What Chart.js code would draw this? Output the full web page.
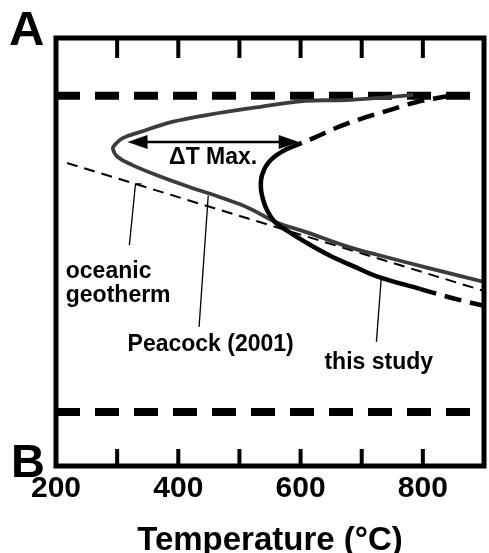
<!DOCTYPE html>
<html>
<head>
<meta charset="utf-8">
<script src="https://cdn.jsdelivr.net/npm/chart.js@4.4.1/dist/chart.umd.min.js"></script>
<style>
  html, body { margin: 0; padding: 0; background: #fff; }
  #wrap { width: 489px; height: 553px; }
</style>
</head>
<body>
<div id="wrap"><canvas id="chart" width="489" height="553"></canvas></div>
<script>
// x = temperature (°C), y = depth in frame units (0 = top of frame, 100 = bottom)
const thisStudyTemp = [844, 789, 751, 707, 665, 621, 602, 569, 548, 537, 535, 538, 545, 558, 581, 608, 646, 686, 727, 795, 849, 900];
const thisStudyDepth = [13.5, 15.0, 16.6, 18.5, 20.6, 23.4, 24.5, 26.6, 29.0, 32.0, 34.8, 37.4, 40.2, 43.0, 45.3, 47.7, 50.7, 53.3, 55.8, 58.6, 60.8, 62.6];
const SOLID_FROM = 6, SOLID_TO = 19; // solid part of "this study", dashed outside

const peacockTemp = [784, 727, 673, 608, 527, 446, 390, 337, 309, 296, 293, 301, 325, 364, 418, 472, 515, 559, 608, 678, 727, 808, 900];
const peacockDepth = [13.3, 14.0, 14.5, 14.7, 16.2, 18.0, 19.6, 22.0, 23.4, 25.0, 25.9, 27.8, 29.7, 32.0, 34.8, 37.4, 39.7, 43.0, 45.3, 48.8, 50.7, 53.7, 57.0];

const geothermTemp = [218, 900];
const geothermDepth = [29.2, 59.1];

const boundaryTemp = [200, 900];
const upperBoundaryDepth = 13.5;
const lowerBoundaryDepth = 87.4;

const leaderGeothermTemp = [320, 330, 340];
const leaderGeothermDepth = [48.4, 34.1, 34.1];
const leaderPeacockTemp = [434, 449];
const leaderPeacockDepth = [67.5, 36.8];
const leaderStudyTemp = [724, 732];
const leaderStudyDepth = [71.0, 56.0];

const deltaTFrom = 317, deltaTTo = 597, deltaTDepth = 24.3;

const noteText = ["oceanic", "geotherm", "Peacock (2001)", "this study", "\u0394T Max."];
const noteTemp = [216, 216, 317, 639, 385];
const noteDepth = [54.7, 60.1, 71.7, 75.9, 28.0];

const xTickMarks = [300, 400, 500, 600, 700, 800];
const xTickLabels = [200, 400, 600, 800];

const FONT = '"Liberation Sans", Arial, sans-serif';

function xy(ts, ds) {
  return ts.map((t, i) => ({ x: t, y: Array.isArray(ds) ? ds[i] : ds }));
}

function leader(ts, ds) {
  return { data: xy(ts, ds), showLine: true, borderColor: "#000", borderWidth: 1.3, tension: 0 };
}

const framePlugin = {
  id: "frame",
  afterDatasetsDraw(chart) {
    const c = chart.ctx;
    const a = chart.chartArea;
    const xs = chart.scales.x;
    const ys = chart.scales.y;
    c.save();
    c.strokeStyle = "#000";
    c.fillStyle = "#000";

    // inward tick marks, top and bottom
    c.lineWidth = 4;
    c.beginPath();
    xTickMarks.forEach(function (t) {
      const px = xs.getPixelForValue(t);
      c.moveTo(px, a.top);
      c.lineTo(px, a.top + 20);
      c.moveTo(px, a.bottom);
      c.lineTo(px, a.bottom - 17);
    });
    c.stroke();

    // frame
    c.lineWidth = 5;
    c.strokeRect(a.left, a.top, a.right - a.left, a.bottom - a.top);

    // delta T arrow
    const x1 = xs.getPixelForValue(deltaTFrom);
    const x2 = xs.getPixelForValue(deltaTTo);
    const yy = ys.getPixelForValue(deltaTDepth);
    c.lineWidth = 2.5;
    c.beginPath();
    c.moveTo(x1 + 12, yy);
    c.lineTo(x2 - 12, yy);
    c.stroke();
    c.beginPath();
    c.moveTo(x1, yy);
    c.lineTo(x1 + 20, yy - 7);
    c.lineTo(x1 + 20, yy + 7);
    c.closePath();
    c.moveTo(x2, yy);
    c.lineTo(x2 - 20, yy - 7);
    c.lineTo(x2 - 20, yy + 7);
    c.closePath();
    c.fill();

    // notes
    c.font = "bold 23px " + FONT;
    c.textAlign = "left";
    c.textBaseline = "middle";
    noteText.forEach(function (txt, i) {
      c.fillText(txt, xs.getPixelForValue(noteTemp[i]), ys.getPixelForValue(noteDepth[i]));
    });

    // panel letters
    c.textBaseline = "alphabetic";
    c.font = "bold 49px " + FONT;
    c.fillText("A", 9, 45);
    c.font = "bold 47px " + FONT;
    c.fillText("B", 11, 477);
    c.restore();
  }
};

const ctx = document.getElementById("chart").getContext("2d");
const chart = new Chart(ctx, {
  type: "scatter",
  data: {
    datasets: [
      {
        label: "this study",
        data: xy(thisStudyTemp, thisStudyDepth),
        showLine: true,
        borderColor: "#000",
        borderWidth: 4.5,
        segment: {
          borderDash: function (s) {
            return (s.p0DataIndex < SOLID_FROM || s.p0DataIndex >= SOLID_TO) ? [17, 9] : undefined;
          }
        }
      },
      {
        label: "Peacock (2001)",
        data: xy(peacockTemp, peacockDepth),
        showLine: true,
        borderColor: "#3c3c3c",
        borderWidth: 3.8
      },
      {
        label: "oceanic geotherm",
        data: xy(geothermTemp, geothermDepth),
        showLine: true,
        borderColor: "#000",
        borderWidth: 2,
        borderDash: [11, 7],
        tension: 0
      },
      {
        label: "upper",
        data: xy(boundaryTemp, upperBoundaryDepth),
        showLine: true,
        borderColor: "#000",
        borderWidth: 8,
        borderDash: [24, 15],
        tension: 0
      },
      {
        label: "lower",
        data: xy(boundaryTemp, lowerBoundaryDepth),
        showLine: true,
        borderColor: "#000",
        borderWidth: 8,
        borderDash: [24, 15],
        tension: 0
      },
      leader(leaderGeothermTemp, leaderGeothermDepth),
      leader(leaderPeacockTemp, leaderPeacockDepth),
      leader(leaderStudyTemp, leaderStudyDepth)
    ]
  },
  options: {
    responsive: false,
    animation: false,
    layout: { padding: { left: 56, right: 2.5, top: 38, bottom: 0 } },
    plugins: {
      legend: { display: false },
      tooltip: { enabled: false }
    },
    elements: {
      point: { radius: 0 },
      line: { tension: 0.4, borderCapStyle: "butt", fill: false }
    },
    scales: {
      x: {
        type: "linear",
        min: 200,
        max: 900,
        afterFit: function (s) { s.height = 87; },
        grid: { display: false, drawTicks: false },
        border: { display: false },
        ticks: {
          stepSize: 100,
          autoSkip: false,
          maxRotation: 0,
          padding: 5,
          color: "#000",
          font: { family: FONT, size: 30, weight: "bold" },
          callback: function (v) { return xTickLabels.includes(v) ? String(v) : ""; }
        },
        title: {
          display: true,
          text: "Temperature (°C)",
          color: "#000",
          font: { family: FONT, size: 33, weight: "bold", lineHeight: 0.75 },
          padding: { top: 0, bottom: 0 }
        }
      },
      y: { type: "linear", min: 0, max: 100, reverse: true, display: false }
    }
  },
  plugins: [framePlugin]
});
</script>
</body>
</html>
